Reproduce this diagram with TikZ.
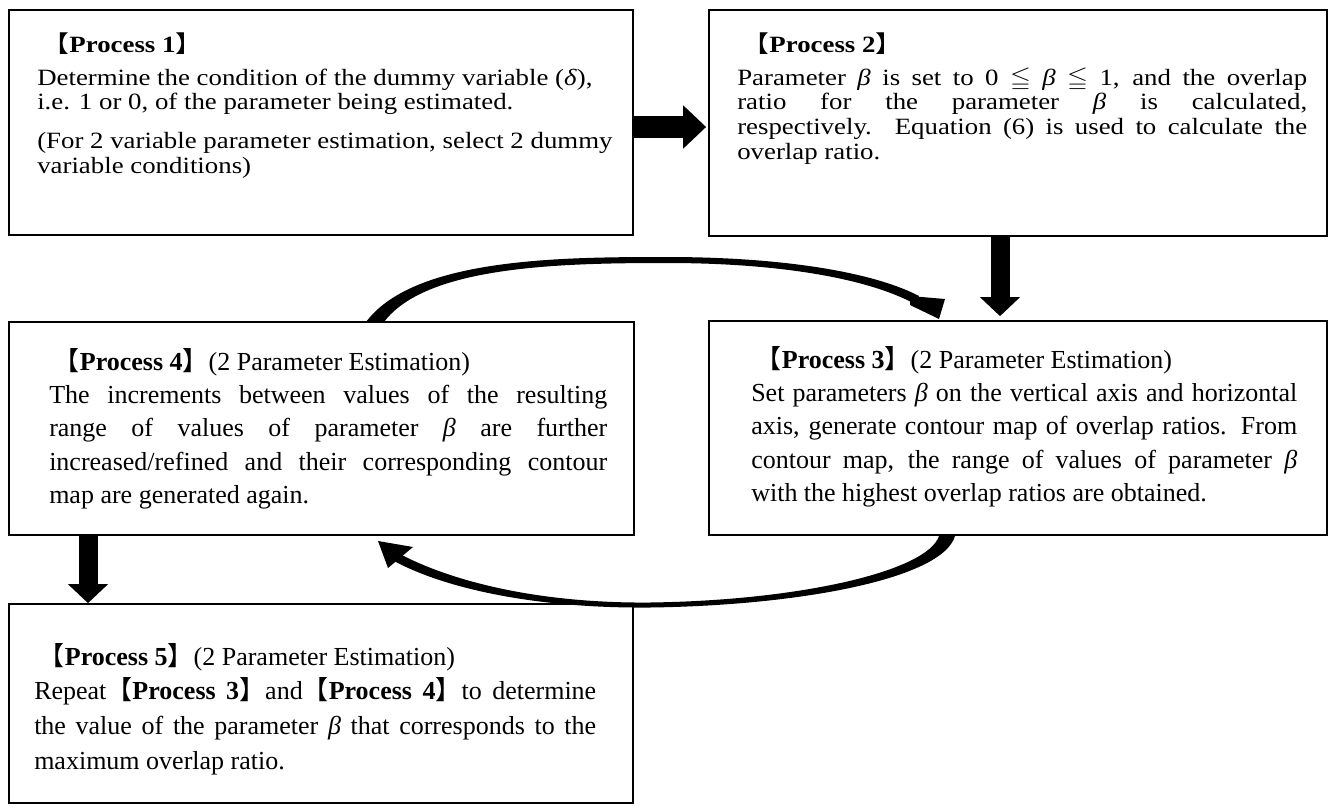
\documentclass[tikz,border=0pt]{standalone}
\usepackage{fontspec}
\usepackage{amssymb}
\setmainfont{Liberation Serif}
\newfontfamily\cjk{Noto Sans CJK SC}
\usetikzlibrary{arrows.meta,calc,fit}
\newcommand\lbk{{\cjk 【}}
\newcommand\rbk{{\cjk 】}}
\newcommand\bt{\textit{β}}
\newcommand\jl[2]{\makebox[#1][s]{#2}}
\newcommand\hd[1]{\lbk\textbf{Process #1}\rbk}
\newcommand\hhd[1]{\hspace*{3.5pt}\hd{#1}}
\newcommand\tb[1]{\parbox[t]{450pt}{\raggedright #1}}
\newcommand\wide[1]{\scalebox{1.15}[1]{#1}}
\begin{document}
\begin{tikzpicture}[x=0.75pt,y=-0.75pt,
  box/.style={draw, line width=1.3pt, inner sep=0pt},
  txt/.style={anchor=base west, inner sep=0pt},
  smallfont/.style={font=\fontsize{17.5}{18.6}\selectfont},
  midfont/.style={font=\fontsize{19.5}{25}\selectfont},
  bigfont/.style={font=\fontsize{19.5}{26}\selectfont},
  bigR/.style={line width=16.5pt, -{Triangle[length=17.25pt 0 0, width=31.5pt 0 0]}},
  bigD/.style={line width=14.25pt, -{Triangle[length=14.25pt 0 0, width=29.25pt 0 0]}},
]
\useasboundingbox (0,0) rectangle (1335,807);
\node[box, fit={(9,10) (633,235)}] (p1) {};
\node[box, fit={(709,10) (1327,236)}] (p2) {};
\node[box, fit={(709,321) (1327,535)}] (p3) {};
\node[box, fit={(9,322) (634,535)}] (p4) {};
\node[box, fit={(9,604) (633,803)}] (p5) {};
\coordinate (x23) at (1000,0);
\coordinate (x45) at (88,0);
\coordinate (y12) at (0,127);

% straight block arrows
\draw[bigR] (p1.east |- y12) -- ($(p2.west |- y12)+(-2,0)$);
\draw[bigD] (p2.south -| x23) -- ($(p3.north -| x23)+(0,-4)$);
\draw[bigD] (p4.south -| x45) -- (p5.north -| x45);

% curved arrow 4 -> 3 (top)
\fill (366,322) .. controls (414,258) and (560,257) .. (667,257)
  .. controls (780,257) and (872,271.5) .. (919,296)
  -- (915,304) .. controls (868,278.5) and (780,263) .. (667,263)
  .. controls (560,263) and (426,266) .. (384,322) -- cycle;
\fill (910,296) -- (945,299) -- (939,319) -- (910,305) -- cycle;

% curved arrow 3 -> 4 (bottom)
\fill (955,536) .. controls (942.6,578.8) and (800,605.5) .. (650,607.5)
  .. controls (540,608.5) and (448,590) .. (394,561)
  -- (398,553) .. controls (452,582) and (540,603.5) .. (650,602.5)
  .. controls (800,600.5) and (927.4,571.2) .. (939,536) -- cycle;
\fill (378,541) -- (413,547) -- (388,568) -- cycle;

% texts
\node[txt, smallfont] (t1) at (37,52) {\wide{\tb{\hhd{1}\\[6.2pt]
Determine the condition of the dummy variable (\textit{δ}),\\
i.e. 1 or 0, of the parameter being estimated.\\[10.5pt]
(For 2 variable parameter estimation, select 2 dummy\\
variable conditions)}}};

\node[txt, smallfont] (t2) at (737,52) {\wide{\tb{\hhd{2}\\[6.2pt]
\jl{371.7pt}{Parameter \bt{} is set to 0 $\leqq$ \bt{} $\leqq$ 1, and the overlap}\\
\jl{371.7pt}{ratio for the parameter \bt{} is calculated,}\\
\jl{371.7pt}{respectively. Equation (6) is used to calculate the}\\
overlap ratio.}}};

\node[txt, midfont] (t3) at (751,368) {\tb{\hhd{3}(2 Parameter Estimation)\\
\jl{409.5pt}{Set parameters \bt{} on the vertical axis and horizontal}\\
\jl{409.5pt}{axis, generate contour map of overlap ratios. From}\\
\jl{409.5pt}{contour map, the range of values of parameter \bt}\\
with the highest overlap ratios are obtained.}};

\node[txt, midfont] (t4) at (49,370) {\tb{\hhd{4}(2 Parameter Estimation)\\
\jl{418.5pt}{The increments between values of the resulting}\\
\jl{418.5pt}{range of values of parameter \bt{} are further}\\
\jl{418.5pt}{increased/refined and their corresponding contour}\\
map are generated again.}};

\node[txt, bigfont] (t5) at (34,665) {\tb{\hhd{5}(2 Parameter Estimation)\\
\jl{421.5pt}{Repeat\hd{3}and\hd{4}to determine}\\
\jl{421.5pt}{the value of the parameter \bt{} that corresponds to the}\\
maximum overlap ratio.}};
\end{tikzpicture}
\end{document}
